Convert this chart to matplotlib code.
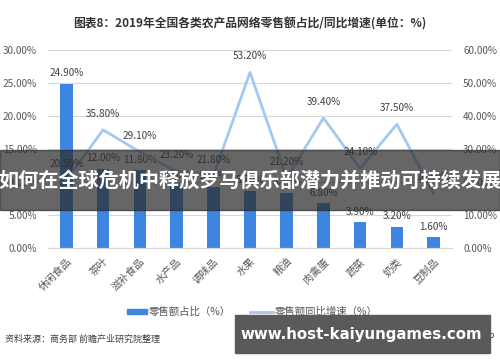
import matplotlib
matplotlib.use("Agg")
import matplotlib.pyplot as plt
import numpy as np
from matplotlib.patches import Rectangle

plt.rcParams['font.family'] = ['Noto Sans CJK SC', 'DejaVu Sans']

categories = ['休闲食品', '茶叶', '滋补食品', '水产品', '调味品', '水果',
              '粮油', '肉禽蛋', '蔬菜', '奶类', '豆制品']
share = [24.9, 12.0, 11.8, 9.5, 9.3, 8.7, 8.4, 6.8, 3.9, 3.2, 1.6]
growth = [20.5, 35.8, 29.1, 23.2, 21.8, 53.2, 21.2, 39.4, 24.1, 37.5, 16.5]

title = '图表8：2019年全国各类农产品网络零售额占比/同比增速(单位：%)'
source = '资料来源：商务部 前瞻产业研究院整理'
overlay = '如何在全球危机中释放罗马俱乐部潜力并推动可持续发展'
site = 'www.host-kaiyungames.com'

bar_color = '#3D85E0'
line_color = '#A4C8F2'
txt = '#595959'

fig = plt.figure(figsize=(5, 3.62), dpi=100)
ax = fig.add_axes([0.096, 0.315, 0.808, 0.547])
ax2 = ax.twinx()

x = np.arange(len(categories))
ax.bar(x, share, width=0.34, color=bar_color, zorder=2)
ax2.plot(x, growth, color=line_color, lw=2, zorder=3)

ax.set_xlim(-0.5, len(categories) - 0.5)
ax.set_ylim(0, 30)
ax2.set_ylim(0, 60)
ax.set_yticks(np.arange(0, 31, 5))
ax2.set_yticks(np.arange(0, 61, 10))
ax.set_yticklabels(['%.2f%%' % v for v in np.arange(0, 31, 5)], fontsize=7.2, color=txt)
ax2.set_yticklabels(['%.2f%%' % v for v in np.arange(0, 61, 10)], fontsize=7.2, color=txt)
ax.yaxis.grid(True, color='#D9D9D9', lw=0.8, zorder=0)
ax.set_axisbelow(True)
ax.set_xticks(x)
ax.set_xticklabels(categories, rotation=45, ha='right', rotation_mode='anchor',
                   fontsize=7.5, color=txt)
ax.tick_params(length=0, pad=6)
ax2.tick_params(length=0, pad=6)
ax.tick_params(axis='y', pad=8)
ax2.tick_params(axis='y', pad=8)
for a in (ax, ax2):
    for s in ('top', 'left', 'right'):
        a.spines[s].set_visible(False)
    a.spines['bottom'].set_color('#D9D9D9')

# data labels
for xi, v in zip(x, share):
    ax.annotate('%.2f%%' % v, (xi, v), xytext=(0, 4), textcoords='offset points',
                ha='center', va='bottom', fontsize=7.2, color='#404040')
for xi, v in zip(x, growth):
    ax2.annotate('%.2f%%' % v, (xi, v), xytext=(0, 8), textcoords='offset points',
                 ha='center', va='bottom', fontsize=7.2, color='#404040')

fig.text(0.5, 0.934, title, ha='center', va='center', fontsize=8.5,
         fontweight='bold', color='#333333')

# legend
fig.patches.append(Rectangle((0.254, 0.133), 0.04, 0.014, transform=fig.transFigure,
                             color=bar_color))
fig.text(0.298, 0.139, '零售额占比（%）', ha='left', va='center', fontsize=7.5, color=txt)
fig.lines.append(plt.Line2D([0.5, 0.546], [0.139, 0.139], transform=fig.transFigure,
                            color=line_color, lw=2))
fig.text(0.55, 0.139, '零售额同比增速（%）', ha='left', va='center', fontsize=7.5, color=txt)

fig.text(0.01, 0.063, source, ha='left', va='center', fontsize=6.5, color='#404040')
fig.text(0.99, 0.068, '@前瞻经济学人APP', ha='right', va='center', fontsize=6.5, color='#404040')

# overlays
fig.patches.append(Rectangle((0, 0.42), 1, 0.165, transform=fig.transFigure,
                             color='#2b2b2b', alpha=0.72, zorder=10))
fig.text(0.5, 0.503, overlay, ha='center', va='center', fontsize=14.5,
         fontweight='bold', color='white', zorder=11)
fig.patches.append(Rectangle((0.47, 0.025), 0.51, 0.105, transform=fig.transFigure,
                             color='#5a5a5a', zorder=10))
fig.text(0.722, 0.077, site, ha='center', va='center', fontsize=10.8,
         fontweight='bold', color='white', family='DejaVu Sans', zorder=11)

fig.savefig('out.png', dpi=100)
